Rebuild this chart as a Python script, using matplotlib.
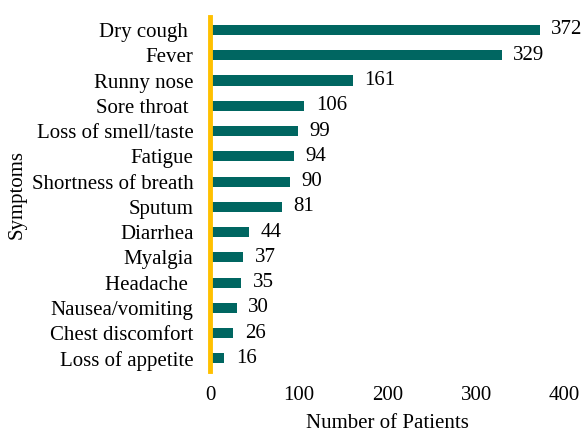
import matplotlib
matplotlib.use("Agg")
import matplotlib.pyplot as plt

symptoms = ["Dry cough ", "Fever", "Runny nose", "Sore throat ", "Loss of smell/taste",
            "Fatigue", "Shortness of breath", "Sputum", "Diarrhea", "Myalgia",
            "Headache ", "Nausea/vomiting", "Chest discomfort", "Loss of appetite"]
patients = [372, 329, 161, 106, 99, 94, 90, 81, 44, 37, 35, 30, 26, 16]
xticks = [0, 100, 200, 300, 400]

plt.rcParams['font.family'] = ['Liberation Serif', 'DejaVu Serif']
fs = 15
fig = plt.figure(figsize=(5.84, 4.34), dpi=100)
ax = fig.add_axes([0.36, 0.145, 0.607, 0.815])
y = list(range(len(symptoms)))
ax.barh(y, patients, height=0.4, color='#006661')
for yi, v in zip(y, patients):
    ax.text(v + 13, yi, str(v), va='center', ha='left', fontsize=fs)
ax.set_yticks(y)
ax.set_yticklabels(symptoms, fontsize=fs)
ax.set_ylim(len(symptoms) - 0.5, -0.5)
ax.set_xlim(0, 400)
ax.set_xticks(xticks)
ax.set_xticklabels([str(t) for t in xticks], fontsize=fs)
ax.tick_params(axis='both', length=0)
ax.tick_params(axis='x', pad=11)
ax.tick_params(axis='y', pad=12)
for s in ['top', 'right', 'bottom']:
    ax.spines[s].set_visible(False)
ax.spines['left'].set_color('#FFC000')
ax.spines['left'].set_linewidth(3.5)
ax.set_xlabel('Number of Patients', fontsize=fs, labelpad=6)
ax.set_ylabel('Symptoms', fontsize=fs, labelpad=4)
fig.savefig('out.png', dpi=100)
